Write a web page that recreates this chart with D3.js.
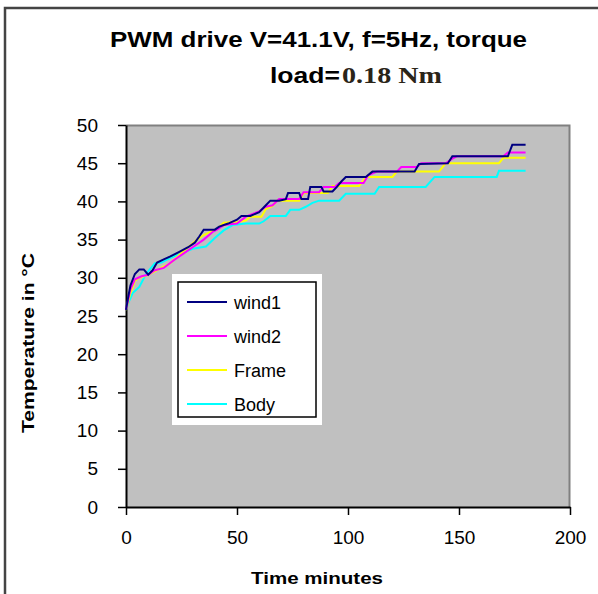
<!DOCTYPE html>
<html>
<head>
<meta charset="utf-8">
<title>PWM drive temperature</title>
<script src="https://d3js.org/d3.v7.min.js"></script>
<style>
  body { margin: 0; background: #fff; }
  text { font-family: "Liberation Sans", Arial, sans-serif; }
</style>
</head>
<body>
<svg class="chart"></svg>
<script>
// series data: [time in minutes, temperature in °C]
var wind1 = [[0,25.8],[1,27.5],[2,29.0],[4,30.5],[6,31.1],[8,31.1],[10,30.4],[12,31.0],[14,32.0],[17,32.4],[20,32.8],[24,33.4],[28,34.0],[31,34.6],[33,35.4],[35,36.3],[40,36.3],[42,36.7],[46,37.1],[50,37.6],[52,38.1],[56,38.1],[60,38.6],[63,39.5],[65,40.1],[69,40.1],[72,40.3],[73,41.1],[78,41.1],[79,40.3],[82,40.3],[83,41.9],[88,41.9],[89,41.3],[93,41.3],[95,41.9],[97,42.6],[99,43.2],[108,43.2],[111,43.9],[130,43.9],[132,44.9],[145,45.0],[147,45.9],[172,45.9],[174,47.4],[180,47.4]];
var wind2 = [[0,25.8],[2,28.5],[4,29.8],[7,30.2],[10,30.4],[13,31.0],[17,31.3],[22,32.4],[26,33.2],[30,34.0],[35,35.0],[39,36.0],[41,36.3],[44,36.9],[50,37.1],[54,38.0],[60,38.7],[63,39.3],[66,39.5],[69,40.3],[78,40.3],[80,41.2],[87,41.2],[89,41.9],[94,41.9],[96,42.4],[107,42.4],[109,43.4],[113,43.9],[122,43.9],[124,44.5],[131,44.5],[133,45.0],[144,45.0],[147,45.6],[149,45.9],[170,45.9],[172,46.4],[180,46.4]];
var frame = [[0,25.8],[2,28.0],[4,29.6],[6,30.0],[10,30.4],[14,31.0],[17,31.5],[20,31.9],[24,33.0],[28,34.0],[32,35.0],[35,35.6],[38,36.0],[41,36.4],[44,37.2],[50,37.3],[54,37.5],[56,38.0],[61,38.0],[63,39.0],[66,39.4],[68,40.1],[78,40.1],[80,41.1],[91,41.1],[93,42.0],[105,42.0],[108,43.2],[120,43.2],[122,43.9],[141,43.9],[144,45.0],[168,45.0],[170,45.7],[180,45.7]];
var body = [[0,25.8],[1,26.7],[3,28.0],[6,28.8],[9,30.5],[13,31.9],[16,32.0],[20,32.6],[25,33.2],[30,33.8],[34,34.0],[36,34.1],[40,35.2],[44,36.2],[48,36.9],[54,37.1],[60,37.1],[62,37.4],[65,38.1],[72,38.1],[74,38.9],[78,38.9],[81,39.3],[84,39.8],[87,40.1],[96,40.1],[99,41.0],[112,41.0],[114,41.9],[135,41.9],[139,43.2],[167,43.2],[168,44.0],[180,44.0]];

var seriesNames = ["wind1", "wind2", "Frame", "Body"];
var seriesColors = ["#000080", "#ff00ff", "#ffff00", "#00ffff"];
var xTicks = [0, 50, 100, 150, 200];
var yTicks = [0, 5, 10, 15, 20, 25, 30, 35, 40, 45, 50];

var allSeries = [wind1, wind2, frame, body];

var svgWidth = 598, svgHeight = 594;
var margin = {top: 125, right: 28, bottom: 87, left: 126};
var width = svgWidth - margin.left - margin.right;
var height = svgHeight - margin.top - margin.bottom;

var svg = d3.select(".chart")
    .attr("width", svgWidth)
    .attr("height", svgHeight);

// outer frame (top + left)
svg.append("path")
    .attr("d", "M5," + svgHeight + "V8H" + svgWidth)
    .attr("fill", "none")
    .attr("stroke", "#444")
    .attr("stroke-width", 2.5);

// title
svg.append("text")
    .attr("x", 110).attr("y", 47)
    .attr("font-size", 22).attr("font-weight", "bold")
    .attr("textLength", 417).attr("lengthAdjust", "spacingAndGlyphs")
    .text("PWM drive V=41.1V, f=5Hz, torque");
svg.append("text")
    .attr("x", 270).attr("y", 83)
    .attr("font-size", 22).attr("font-weight", "bold")
    .attr("textLength", 70).attr("lengthAdjust", "spacingAndGlyphs")
    .text("load=");
svg.append("text")
    .attr("x", 342).attr("y", 83)
    .style("font-family", "'Liberation Serif', 'Times New Roman', serif")
    .attr("font-size", 23).attr("font-weight", "bold")
    .attr("fill", "#2a2418")
    .attr("textLength", 100).attr("lengthAdjust", "spacingAndGlyphs")
    .text("0.18 Nm");

var chart = svg.append("g")
    .attr("transform", "translate(" + margin.left + "," + margin.top + ")");

var xScale = d3.scaleLinear().domain([0, 200]).range([0, width]);
var yScale = d3.scaleLinear().domain([0, 50]).range([height, 0]);

// plot area
chart.append("rect")
    .attr("width", width).attr("height", height)
    .attr("fill", "#c0c0c0");
chart.append("path")
    .attr("d", "M0,0.5H" + (width - 0.5) + "V" + height)
    .attr("fill", "none")
    .attr("stroke", "#808080")
    .attr("stroke-width", 2);

var xAxis = d3.axisBottom(xScale).tickValues(xTicks).tickSize(8).tickPadding(16).tickSizeOuter(0);
var yAxis = d3.axisLeft(yScale).tickValues(yTicks).tickSize(8).tickPadding(20).tickSizeOuter(0);

var gx = chart.append("g")
    .attr("transform", "translate(0," + height + ")")
    .call(xAxis);
var gy = chart.append("g").call(yAxis);

[gx, gy].forEach(function (g) {
    g.select(".domain").attr("stroke", "#000").attr("stroke-width", 2);
    g.selectAll(".tick line").attr("stroke", "#000").attr("stroke-width", 1.5);
    g.selectAll(".tick text")
        .attr("font-family", "'Liberation Sans', Arial, sans-serif")
        .attr("font-size", 19).attr("fill", "#000");
});

// axis titles
svg.append("text")
    .attr("x", 251).attr("y", 584)
    .attr("font-size", 17).attr("font-weight", "bold")
    .attr("textLength", 132).attr("lengthAdjust", "spacingAndGlyphs")
    .text("Time minutes");
svg.append("text")
    .attr("transform", "translate(34,433) rotate(-90)")
    .attr("font-size", 17).attr("font-weight", "bold")
    .attr("textLength", 180).attr("lengthAdjust", "spacingAndGlyphs")
    .text("Temperature in °C");

// lines
var line = d3.line()
    .x(function (d) { return xScale(d[0]); })
    .y(function (d) { return yScale(d[1]); });

// draw Body first so the windings sit on top
[3, 2, 1, 0].forEach(function (i) {
    chart.append("path")
        .datum(allSeries[i])
        .attr("fill", "none")
        .attr("stroke", seriesColors[i])
        .attr("stroke-width", 2)
        .attr("d", line);
});

// legend
var legend = svg.append("g").attr("transform", "translate(172,274)");
legend.append("rect")
    .attr("width", 150).attr("height", 151)
    .attr("fill", "#fff");
legend.append("rect")
    .attr("x", 6).attr("y", 8)
    .attr("width", 138).attr("height", 135)
    .attr("fill", "none")
    .attr("stroke", "#000")
    .attr("stroke-width", 1.5);
seriesNames.forEach(function (name, i) {
    var y = 28 + i * 34;
    legend.append("line")
        .attr("x1", 15).attr("x2", 55)
        .attr("y1", y).attr("y2", y)
        .attr("stroke", seriesColors[i])
        .attr("stroke-width", 2);
    legend.append("text")
        .attr("x", 62).attr("y", y + 7)
        .attr("font-size", 18)
        .text(name);
});
</script>
</body>
</html>
